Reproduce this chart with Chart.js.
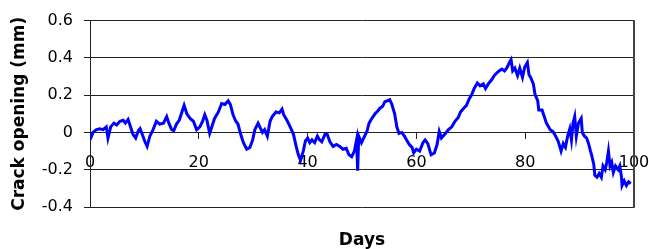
<!DOCTYPE html>
<html lang="en">
<head>
    <meta charset="UTF-8" />
    <title>Crack opening</title>
    <script src="https://cdn.jsdelivr.net/npm/chart.js"></script>
    <style>
        html, body { margin: 0; padding: 0; background: #fff; overflow: hidden; }
        #crackChart { display: block; }
    </style>
</head>
<body>
    <canvas id="crackChart" width="649" height="249"></canvas>

    <script>
        // values
        const days = [
            0, 0.55, 1.2, 1.8, 2.4, 3.0, 3.3, 3.8, 4.4, 4.9, 5.5, 6.1, 6.5, 7.0, 7.4, 7.9, 8.4, 8.9, 9.2, 9.6,
            10.1, 10.5, 11.0, 11.6, 12.2, 12.8, 13.5, 14.1, 14.5, 15.0, 15.4, 15.9, 16.4, 16.9, 17.3, 17.8, 18.4, 19.0, 19.6,
            20.2, 20.7, 21.1, 21.5, 22.0, 22.4, 22.9, 23.6, 24.2, 24.8, 25.4, 25.8, 26.3, 26.8, 27.2, 27.7, 28.2, 28.8, 29.4, 29.9,
            30.3, 30.9, 31.3, 31.7, 32.1, 32.6, 33.1, 33.5, 34.2, 34.8, 35.3, 35.6, 36.2, 36.8, 37.4, 37.9, 38.3, 38.7, 39.2, 39.6,
            40.0, 40.4, 40.8, 41.3, 41.8, 42.2, 42.6, 43.2, 43.6, 44.1, 44.7, 45.3, 45.9, 46.5, 47.1, 47.6, 48.1, 48.6, 49.0, 49.2, 49.4, 49.9,
            50.3, 50.9, 51.3, 51.8, 52.4, 52.9, 53.3, 53.8, 54.2, 54.7, 55.1, 55.5, 56.0, 56.4, 56.8, 57.3, 57.8, 58.2, 58.7, 59.2, 59.5,
            60.0, 60.6, 61.2, 61.6, 62.1, 62.7, 63.3, 63.8, 64.2, 64.6, 65.2, 65.9, 66.5, 67.1, 67.7, 68.1, 68.7, 69.2, 69.7,
            70.2, 70.6, 71.2, 71.7, 72.3, 72.7, 73.2, 73.9, 74.3, 74.8, 75.2, 75.7, 76.2, 76.6, 77.1, 77.4, 77.7, 78.1, 78.6, 79.0, 79.5, 79.9,
            80.4, 80.7, 81.0, 81.5, 81.8, 82.3, 82.5, 83.1, 83.5, 83.9, 84.6, 85.1, 85.6, 86.1, 86.6, 87.0, 87.4, 87.8, 88.2, 88.5, 88.8, 89.1, 89.4, 89.8,
            90.3, 90.5, 90.9, 91.3, 91.7, 92.0, 92.2, 92.6, 92.8, 93.2, 93.6, 94.0, 94.3, 94.7, 95.0, 95.3, 95.6, 95.9, 96.2, 96.6,
            97.1, 97.4, 97.7, 97.8, 98.2, 98.6, 99.0, 99.4
        ];
        const crackOpening = [
            -0.04, 0.0, 0.015, 0.02, 0.015, 0.03, -0.03, 0.03, 0.05, 0.04, 0.06, 0.065, 0.05, 0.07, 0.035, -0.01, -0.03, 0.01, 0.02, -0.01,
            -0.05, -0.075, -0.02, 0.015, 0.06, 0.045, 0.05, 0.085, 0.05, 0.015, 0.01, 0.045, 0.065, 0.11, 0.145, 0.10, 0.075, 0.06, 0.015,
            0.03, 0.06, 0.095, 0.065, -0.005, 0.03, 0.075, 0.11, 0.155, 0.15, 0.17, 0.15, 0.095, 0.06, 0.045, -0.01, -0.055, -0.09, -0.08, -0.04,
            0.015, 0.05, 0.025, 0.0, 0.015, -0.02, 0.06, 0.085, 0.11, 0.105, 0.125, 0.095, 0.065, 0.03, -0.01, -0.075, -0.12, -0.15, -0.10, -0.045,
            -0.03, -0.055, -0.04, -0.055, -0.02, -0.04, -0.05, -0.01, -0.01, -0.05, -0.075, -0.065, -0.075, -0.09, -0.085, -0.12, -0.13, -0.10, -0.04, -0.205, -0.02, -0.055,
            -0.03, 0.005, 0.05, 0.075, 0.10, 0.115, 0.13, 0.14, 0.165, 0.17, 0.175, 0.15, 0.10, 0.03, -0.005, 0.0, -0.02, -0.04, -0.065, -0.08, -0.11,
            -0.09, -0.10, -0.055, -0.04, -0.06, -0.12, -0.11, -0.065, 0.005, -0.03, -0.01, 0.015, 0.03, 0.06, 0.08, 0.11, 0.13, 0.145, 0.18,
            0.205, 0.235, 0.265, 0.25, 0.26, 0.235, 0.26, 0.285, 0.305, 0.32, 0.33, 0.34, 0.33, 0.345, 0.375, 0.39, 0.33, 0.345, 0.305, 0.345, 0.295, 0.35,
            0.375, 0.31, 0.295, 0.26, 0.205, 0.17, 0.12, 0.12, 0.085, 0.05, 0.015, 0.005, -0.02, -0.05, -0.10, -0.06, -0.08, -0.02, 0.02, -0.04, 0.05, 0.085, -0.02, 0.05,
            0.075, 0.0, -0.02, -0.03, -0.065, -0.10, -0.12, -0.17, -0.23, -0.24, -0.22, -0.24, -0.18, -0.20, -0.16, -0.10, -0.18, -0.16, -0.215, -0.18,
            -0.20, -0.18, -0.24, -0.285, -0.26, -0.285, -0.265, -0.275
        ];
        const xMin = 0, xMax = 100, xStep = 20;
        const yMin = -0.4, yMax = 0.6, yStep = 0.2;

        const points = days.map((d, i) => ({ x: d, y: crackOpening[i] }));

        const lineColor = "#222";
        const tickFont = { family: "DejaVu Sans", size: 16 };
        const titleFont = { family: "DejaVu Sans", size: 17, weight: "bold", lineHeight: 1 };

        new Chart(document.getElementById("crackChart"), {
            type: "line",
            data: {
                datasets: [{
                    data: points,
                    borderColor: "#0000ff",
                    borderWidth: 3,
                    pointRadius: 0,
                    fill: false,
                    tension: 0,
                    xAxisID: "x",
                    yAxisID: "y"
                }]
            },
            options: {
                responsive: false,
                animation: false,
                devicePixelRatio: 1,
                layout: { padding: { left: 10, right: 15, top: 17, bottom: 0 } },
                plugins: { legend: { display: false }, tooltip: { enabled: false } },
                scales: {
                    x: {
                        type: "linear",
                        position: { y: 0 },
                        min: xMin,
                        max: xMax,
                        afterFit: s => { s.paddingLeft = 0; s.paddingRight = 0; },
                        ticks: { stepSize: xStep, font: tickFont, color: "#000", padding: 15, maxRotation: 0 },
                        grid: { drawOnChartArea: false, color: lineColor, lineWidth: 1, tickLength: 6 },
                        border: { display: true, color: lineColor }
                    },
                    x2: {
                        type: "linear",
                        position: "bottom",
                        min: xMin,
                        max: xMax,
                        afterFit: s => { s.height = 42; },
                        ticks: { display: false },
                        grid: { display: false },
                        border: { display: false },
                        title: { display: true, text: "Days", font: titleFont, color: "#000", padding: 0 }
                    },
                    y: {
                        type: "linear",
                        position: "left",
                        min: yMin,
                        max: yMax,
                        afterFit: s => { s.width = 80; },
                        ticks: {
                            stepSize: yStep,
                            font: tickFont,
                            color: "#000",
                            padding: 11,
                            callback: v => String(Math.round(v * 10) / 10)
                        },
                        grid: { color: lineColor, lineWidth: 1, tickLength: 6 },
                        border: { display: true, color: lineColor },
                        title: {
                            display: true,
                            text: "Crack opening (mm)",
                            font: titleFont,
                            color: "#000",
                            padding: { top: 1, bottom: 0 }
                        }
                    },
                    // right-hand axis: no labels, only its axis line closes the plot box
                    yRight: {
                        type: "linear",
                        position: "right",
                        min: yMin,
                        max: yMax,
                        ticks: { stepSize: yStep, callback: () => "", padding: 0 },
                        grid: { drawOnChartArea: false, drawTicks: false, color: lineColor, lineWidth: 2 },
                        border: { display: true, color: "#444", width: 2 }
                    }
                }
            }
        });
    </script>
</body>
</html>
